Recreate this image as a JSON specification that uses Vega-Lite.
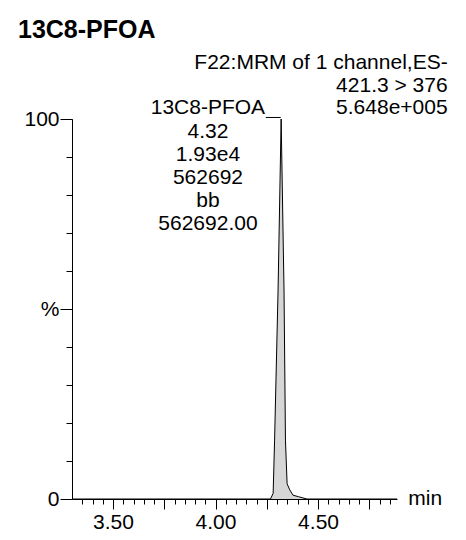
{
  "$schema": "https://vega.github.io/schema/vega-lite/v6.json",
  "autosize": {"type": "none"},
  "width": 325,
  "height": 380,
  "padding": {"left": 72, "top": 119, "right": 69, "bottom": 41},
  "background": "white",
  "config": {
    "view": {"stroke": null},
    "font": "Liberation Sans",
    "axis": {"labelFont": "Liberation Sans", "labelColor": "black", "domainColor": "black", "tickColor": "black", "grid": false, "title": null, "labelOverlap": false, "labelFlush": false, "domainWidth": 1, "tickWidth": 1, "labelFontSize": 21}
  },
  "title": {"text": "13C8-PFOA", "anchor": "start", "frame": "group", "dx": -54, "offset": 9, "fontSize": 25, "font": "Liberation Sans", "fontWeight": "bold", "color": "black"},
  "resolve": {"axis": {"x": "independent", "y": "independent"}},
  "datasets": {
    "peak": [
      {"t": 3.30, "pct": 0},
      {"t": 4.268, "pct": 0},
      {"t": 4.281, "pct": 1.5},
      {"t": 4.288, "pct": 15.5},
      {"t": 4.305, "pct": 55},
      {"t": 4.320, "pct": 100},
      {"t": 4.334, "pct": 55},
      {"t": 4.341, "pct": 15.5},
      {"t": 4.349, "pct": 4},
      {"t": 4.362, "pct": 2.4},
      {"t": 4.378, "pct": 1.0},
      {"t": 4.405, "pct": 0.6},
      {"t": 4.446, "pct": 0},
      {"t": 4.885, "pct": 0}
    ],
    "peaklabel": [
      {"t": 3.963, "pct": 102.8, "label": "13C8-PFOA"},
      {"t": 3.963, "pct": 96.7, "label": "4.32"},
      {"t": 3.963, "pct": 90.5, "label": "1.93e4"},
      {"t": 3.963, "pct": 84.4, "label": "562692"},
      {"t": 3.963, "pct": 78.4, "label": "bb"},
      {"t": 3.963, "pct": 72.4, "label": "562692.00"}
    ],
    "header": [
      {"t": 5.132, "pct": 114.8, "label": "F22:MRM of 1 channel,ES-"},
      {"t": 5.132, "pct": 108.8, "label": "421.3 > 376"},
      {"t": 5.132, "pct": 102.8, "label": "5.648e+005"}
    ],
    "connector": [
      {"t1": 4.245, "t2": 4.318, "pct": 100.4}
    ],
    "unit": [
      {"t": 5.023, "pct": 0, "label": "min"}
    ]
  },
  "layer": [
    {
      "data": {"name": "peak"},
      "mark": {"type": "area", "color": "#c4c4c4", "line": {"color": "black", "strokeWidth": 1}, "clip": true},
      "encoding": {
        "x": {
          "field": "t", "type": "quantitative",
          "scale": {"domain": [3.30, 4.885], "nice": false, "zero": false},
          "axis": {
            "orient": "bottom",
            "values": [3.35, 3.40, 3.45, 3.50, 3.55, 3.60, 3.65, 3.70, 3.75, 3.80, 3.85, 3.90, 3.95, 4.00, 4.05, 4.10, 4.15, 4.20, 4.25, 4.30, 4.35, 4.40, 4.45, 4.50, 4.55, 4.60, 4.65, 4.70, 4.75, 4.80, 4.85],
            "tickSize": 5,
            "labels": false
          }
        },
        "y": {
          "field": "pct", "type": "quantitative",
          "scale": {"domain": [0, 100], "nice": false},
          "axis": {
            "orient": "left",
            "values": [0, 10, 20, 30, 40, 50, 60, 70, 80, 90, 100],
            "tickSize": 6,
            "labels": false
          }
        }
      }
    },
    {
      "data": {"name": "connector"},
      "mark": {"type": "rule", "color": "black", "strokeWidth": 1},
      "encoding": {
        "x": {
          "field": "t1", "type": "quantitative",
          "axis": {
            "orient": "bottom",
            "values": [3.50, 3.75, 4.00, 4.25, 4.50, 4.75],
            "tickSize": 10,
            "labelExpr": "abs(datum.value*2 - round(datum.value*2)) < 0.001 ? format(datum.value, '.2f') : ''",
            "labelPadding": 2,
            "domain": false
          }
        },
        "x2": {"field": "t2"},
        "y": {
          "field": "pct", "type": "quantitative",
          "axis": {
            "orient": "left",
            "values": [0, 50, 100],
            "tickSize": 12,
            "labelExpr": "datum.value == 50 ? '%' : datum.label",
            "labelPadding": 1,
            "domain": false
          }
        }
      }
    },
    {
      "data": {"name": "peaklabel"},
      "mark": {"type": "text", "fontSize": 21, "font": "Liberation Sans", "color": "black", "align": "center", "baseline": "middle", "clip": false},
      "encoding": {
        "x": {"field": "t", "type": "quantitative", "axis": null},
        "y": {"field": "pct", "type": "quantitative", "axis": null},
        "text": {"field": "label"}
      }
    },
    {
      "data": {"name": "header"},
      "mark": {"type": "text", "fontSize": 21, "font": "Liberation Sans", "color": "black", "align": "right", "baseline": "middle", "clip": false},
      "encoding": {
        "x": {"field": "t", "type": "quantitative", "axis": null},
        "y": {"field": "pct", "type": "quantitative", "axis": null},
        "text": {"field": "label"}
      }
    },
    {
      "data": {"name": "unit"},
      "mark": {"type": "text", "fontSize": 21, "font": "Liberation Sans", "color": "black", "align": "center", "baseline": "middle", "clip": false},
      "encoding": {
        "x": {"field": "t", "type": "quantitative", "axis": null},
        "y": {"field": "pct", "type": "quantitative", "axis": null},
        "text": {"field": "label"}
      }
    }
  ]
}
